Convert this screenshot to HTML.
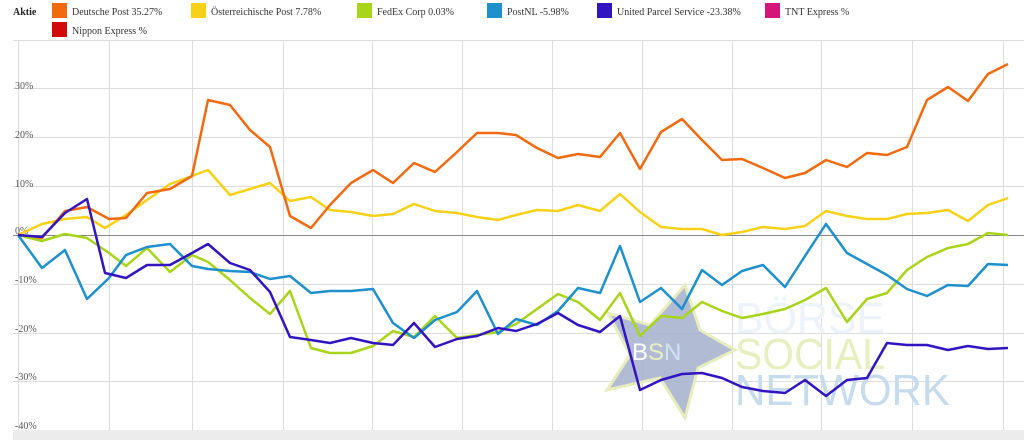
<!DOCTYPE html>
<html><head><meta charset="utf-8"><style>
body{margin:0;background:#fff;}
svg{display:block;}
text{font-family:"Liberation Serif",serif;}
</style></head><body>
<svg width="1024" height="440" xmlns="http://www.w3.org/2000/svg">
<rect width="1024" height="440" fill="#fff"/>
<g stroke="#dcdcdc" stroke-width="1">
<line x1="13" y1="40.5" x2="1024" y2="40.5"/>
<line x1="13" y1="88.5" x2="1024" y2="88.5"/>
<line x1="13" y1="137.5" x2="1024" y2="137.5"/>
<line x1="13" y1="186.5" x2="1024" y2="186.5"/>
<line x1="13" y1="284.5" x2="1024" y2="284.5"/>
<line x1="13" y1="333.5" x2="1024" y2="333.5"/>
<line x1="13" y1="381.5" x2="1024" y2="381.5"/>
<line x1="18.5" y1="40" x2="18.5" y2="432"/>
<line x1="109.5" y1="40" x2="109.5" y2="432"/>
<line x1="192.5" y1="40" x2="192.5" y2="432"/>
<line x1="283.5" y1="40" x2="283.5" y2="432"/>
<line x1="372.5" y1="40" x2="372.5" y2="432"/>
<line x1="462.5" y1="40" x2="462.5" y2="432"/>
<line x1="552.5" y1="40" x2="552.5" y2="432"/>
<line x1="642.5" y1="40" x2="642.5" y2="432"/>
<line x1="732.5" y1="40" x2="732.5" y2="432"/>
<line x1="821.5" y1="40" x2="821.5" y2="432"/>
<line x1="912.5" y1="40" x2="912.5" y2="432"/>
<line x1="1003.5" y1="40" x2="1003.5" y2="432"/>
</g>
<line x1="13" y1="235.5" x2="1024" y2="235.5" stroke="#888" stroke-width="1"/>
<rect x="13" y="430" width="1011" height="10" fill="#ececec"/>
<g font-size="10" fill="#555">
<text x="15" y="89">30%</text>
<text x="15" y="138">20%</text>
<text x="15" y="187">10%</text>
<text x="15" y="234">0%</text>
<text x="15" y="283">-10%</text>
<text x="15" y="332">-20%</text>
<text x="15" y="380">-30%</text>
<text x="15" y="429">-40%</text>
</g>
<polygon points="685,285 700,330 735,350 698,368 685,418 660,378 607,390 630,355 608,313 650,325" fill="#a9b4cf" stroke="#e6ecb8" stroke-width="3" opacity="0.9"/>
<text x="632" y="360" font-size="24" fill="#fff" style="font-family:'Liberation Sans',sans-serif">B<tspan fill="#e8f0c0">S</tspan><tspan fill="#cfe3f0">N</tspan></text>
<text x="735" y="333" font-size="44" fill="#edf3fa" textLength="150" lengthAdjust="spacingAndGlyphs" style="font-family:'Liberation Sans',sans-serif">BÖRSE</text>
<text x="735" y="369" font-size="44" fill="#e8efbf" textLength="150" lengthAdjust="spacingAndGlyphs" style="font-family:'Liberation Sans',sans-serif">SOCIAL</text>
<text x="735" y="405" font-size="44" fill="#c6dcec" textLength="215" lengthAdjust="spacingAndGlyphs" style="font-family:'Liberation Sans',sans-serif">NETWORK</text>
<g fill="none" stroke-width="2.5" stroke-linejoin="round">
<polyline stroke="#f7d117" points="18,235 42,224 65,219 87,217 105,228 126,215 147,200 170,184 192,176 208,170 230,195 250,189 270,183 290,201 311,197 330,210 351,212 373,216 393,214 414,204 435,211 457,213 477,217 498,220 516,215 537,210 558,211 578,205 600,211 620,194 640,212 661,227 682,229 702,229 722,235 742,232 763,227 785,229 805,226 826,211 847,216 867,219 887,219 907,214 927,213 948,210 968,221 988,205 1008,198"/>
<polyline stroke="#f26a10" points="18,235 42,238 65,211 87,207 109,219 126,218 147,193 170,189 192,176 208,100 230,105 250,130 270,147 290,216 311,228 330,205 351,183 373,170 393,183 414,163 435,172 457,152 477,133 498,133 516,135 537,148 558,158 578,154 600,157 620,133 640,169 661,132 682,119 702,140 722,160 742,159 763,168 785,178 805,173 826,160 847,167 867,153 887,155 907,147 927,100 948,87 968,101 988,74 1008,64"/>
<polyline stroke="#a8d41a" points="18,235 42,241 65,234 87,238 109,253 126,266 147,248 170,272 192,255 208,262 230,280 250,298 270,314 290,291 311,348 330,353 351,353 373,346 393,331 414,337 435,316 457,338 477,335 498,332 516,324 537,309 558,294 578,302 600,320 620,293 640,336 661,316 682,318 702,302 722,311 742,318 763,314 785,309 805,300 826,288 847,322 867,299 887,293 907,270 927,257 948,248 968,244 988,233 1008,235"/>
<polyline stroke="#1e90cc" points="18,235 42,268 65,250 87,299 109,278 126,255 147,247 170,244 192,266 208,269 230,271 250,272 270,279 290,276 311,293 330,291 351,291 373,289 393,323 414,338 435,320 457,312 477,291 498,334 516,319 537,325 558,311 578,288 600,293 620,246 640,302 661,288 682,309 702,270 722,285 742,271 763,265 785,287 805,256 826,224 847,253 867,264 887,275 907,289 927,296 948,285 968,286 988,264 1008,265"/>
<polyline stroke="#3214c0" points="18,235 42,237 65,213 87,199 105,273 126,278 147,265 170,265 192,253 208,244 230,263 250,270 270,292 290,337 311,340 330,343 351,338 373,343 393,345 414,323 435,347 457,339 477,336 498,328 516,331 537,324 558,313 578,325 600,332 620,316 640,390 661,380 682,374 702,373 722,378 742,387 763,391 785,393 805,380 826,396 847,380 867,378 887,343 907,345 927,345 948,350 968,346 988,349 1008,348"/>
</g>
<g font-size="10" fill="#333">
<text x="13" y="15" font-weight="bold" fill="#222">Aktie</text>
<rect x="52" y="3" width="15" height="15" fill="#f26a10"/><text x="72" y="15">Deutsche Post  35.27%</text>
<rect x="191" y="3" width="15" height="15" fill="#f7d117"/><text x="211" y="15">Österreichische Post  7.78%</text>
<rect x="357" y="3" width="15" height="15" fill="#a8d41a"/><text x="377" y="15">FedEx Corp  0.03%</text>
<rect x="487" y="3" width="15" height="15" fill="#1e90cc"/><text x="507" y="15">PostNL  -5.98%</text>
<rect x="597" y="3" width="15" height="15" fill="#3214c0"/><text x="617" y="15">United Parcel Service  -23.38%</text>
<rect x="765" y="3" width="15" height="15" fill="#d4167a"/><text x="785" y="15">TNT Express  %</text>
<rect x="52" y="22" width="15" height="15" fill="#d10a0a"/><text x="72" y="34">Nippon Express  %</text>
</g>
</svg>
</body></html>
